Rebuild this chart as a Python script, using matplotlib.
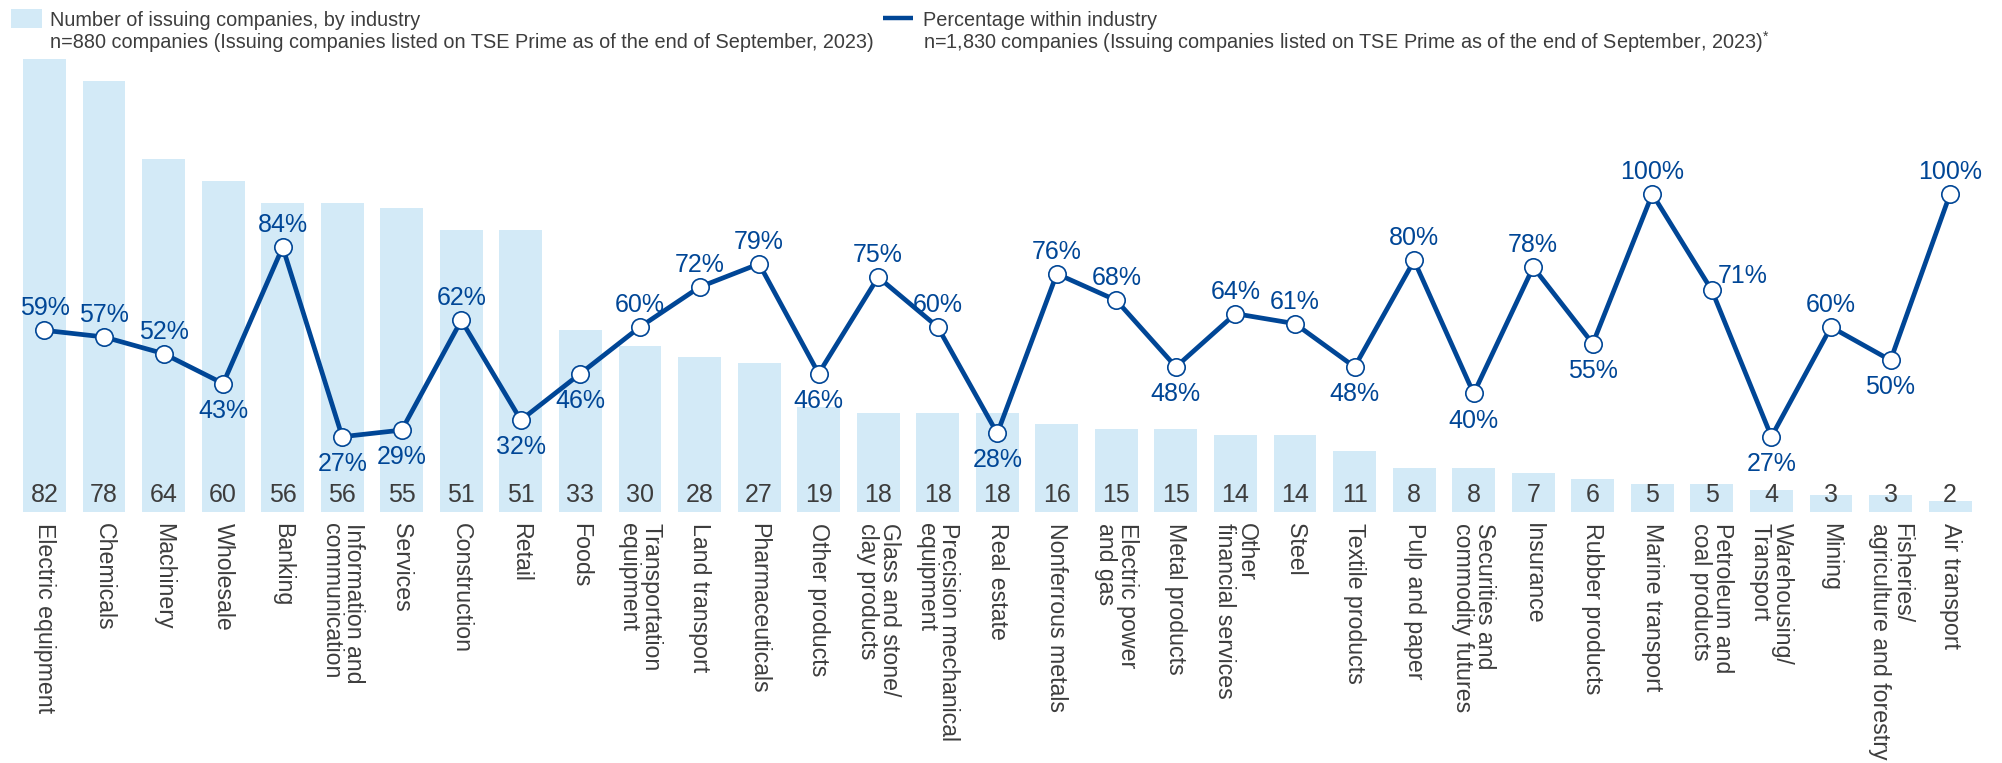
import matplotlib
matplotlib.use("Agg")
import matplotlib.pyplot as plt
from matplotlib.patches import Rectangle
from matplotlib.lines import Line2D

plt.rcParams["font.family"] = ["Liberation Sans", "DejaVu Sans"]
plt.rcParams["mathtext.fontset"] = "custom"
plt.rcParams["mathtext.rm"] = "Liberation Sans"
plt.rcParams["mathtext.default"] = "regular"

# ---- data -------------------------------------------------------------
industries = [
    "Electric equipment", "Chemicals", "Machinery", "Wholesale", "Banking",
    "Information and\ncommunication", "Services", "Construction", "Retail",
    "Foods", "Transportation\nequipment", "Land transport", "Pharmaceuticals",
    "Other products", "Glass and stone/\nclay products",
    "Precision mechanical\nequipment", "Real estate", "Nonferrous metals",
    "Electric power\nand gas", "Metal products", "Other\nfinancial services",
    "Steel", "Textile products", "Pulp and paper",
    "Securities and\ncommodity futures", "Insurance", "Rubber products",
    "Marine transport", "Petroleum and\ncoal products",
    "Warehousing/\nTransport", "Mining",
    "Fisheries/\nagriculture and forestry", "Air transport",
]
issuers = [82, 78, 64, 60, 56, 56, 55, 51, 51, 33, 30, 28, 27, 19, 18, 18,
           18, 16, 15, 15, 14, 14, 11, 8, 8, 7, 6, 5, 5, 4, 3, 3, 2]
share_pct = [59, 57, 52, 43, 84, 27, 29, 62, 32, 46, 60, 72, 79, 46, 75, 60,
             28, 76, 68, 48, 64, 61, 48, 80, 40, 78, 55, 100, 71, 27, 60,
             50, 100]
# where each percentage label sits relative to its marker
label_side = ["up", "up", "up", "down", "up", "down", "down", "up", "down",
              "down", "up", "up", "up", "down", "up", "up", "down", "up",
              "up", "down", "up", "up", "down", "up", "down", "up", "down",
              "up", "right", "down", "up", "down", "up"]

bar_label = "Number of issuing companies, by industry"
bar_note = ("n=880 companies (Issuing companies listed on TSE Prime "
            "as of the end of September, 2023)")
line_label = "Percentage within industry"
line_note = ("n=1,830 companies (Issuing companies listed on TSE Prime "
             "as of the end of September, 2023)$^{*}$")

# ---- styling ----------------------------------------------------------
BAR_C = "#d3eaf7"
LINE_C = "#004696"
GREY = "#3d3d3d"
W, H = 2002, 763

fig = plt.figure(figsize=(W / 100, H / 100), dpi=100)
fig.patch.set_facecolor("white")

left_px, right_px = 14.7, 14.7 + 33 * 59.55
top_px, bottom_px = 57, 512
ax = fig.add_axes([left_px / W, 1 - bottom_px / H,
                   (right_px - left_px) / W, (bottom_px - top_px) / H])
x = list(range(len(industries)))

ax.bar(x, issuers, width=0.72, color=BAR_C, zorder=1)
ax.set_xlim(-0.5, len(industries) - 0.5)
ax.set_ylim(0, 82.4)
ax.axis("off")

for xi, n in zip(x, issuers):
    ax.annotate(str(n), xy=(xi, 0), xytext=(0, 7.2),
                textcoords="offset points", ha="center", va="baseline",
                fontsize=18, color=GREY, zorder=3)

for xi, name in zip(x, industries):
    ax.annotate(name, xy=(xi, 0), xytext=(0, -8),
                textcoords="offset points", rotation=-90, ha="center",
                va="top", multialignment="left", linespacing=0.95,
                fontsize=16.7, color=GREY, annotation_clip=False)

ax2 = ax.twinx()
ax2.set_ylim(4.36, 141.2)
ax2.axis("off")
ax2.plot(x, share_pct, color=LINE_C, lw=3.4, marker="o", ms=12.5,
         mfc="white", mec=LINE_C, mew=1.2, zorder=4, clip_on=False)

for xi, p, side in zip(x, share_pct, label_side):
    if side == "up":
        off, ha = (0, 10.8), "center"
    elif side == "down":
        off, ha = (0, -24.5), "center"
    else:
        off, ha = (4.3, 5), "left"
    ax2.annotate(f"{p}%", xy=(xi, p), xytext=off, textcoords="offset points",
                 ha=ha, va="baseline", fontsize=18, color=LINE_C, zorder=5,
                 annotation_clip=False)

# ---- legend -----------------------------------------------------------
fig.add_artist(Rectangle((11 / W, 1 - 28 / H), 31 / W, 19 / H,
                         transform=fig.transFigure, color=BAR_C, lw=0))
fig.text(50 / W, 1 - 26 / H, bar_label, fontsize=14.3, color=GREY,
         va="baseline", ha="left")
fig.text(50 / W, 1 - 48.5 / H, bar_note, fontsize=14.3, color=GREY,
         va="baseline", ha="left")

fig.add_artist(Line2D([883 / W, 913 / W], [1 - 18 / H, 1 - 18 / H],
                      transform=fig.transFigure, color=LINE_C, lw=3.2,
                      solid_capstyle="butt"))
fig.text(923 / W, 1 - 26 / H, line_label, fontsize=14.3, color=GREY,
         va="baseline", ha="left")
fig.text(923 / W, 1 - 48.5 / H, line_note, fontsize=14.3, color=GREY,
         va="baseline", ha="left")

fig.savefig("out.png", dpi=100, facecolor="white")
